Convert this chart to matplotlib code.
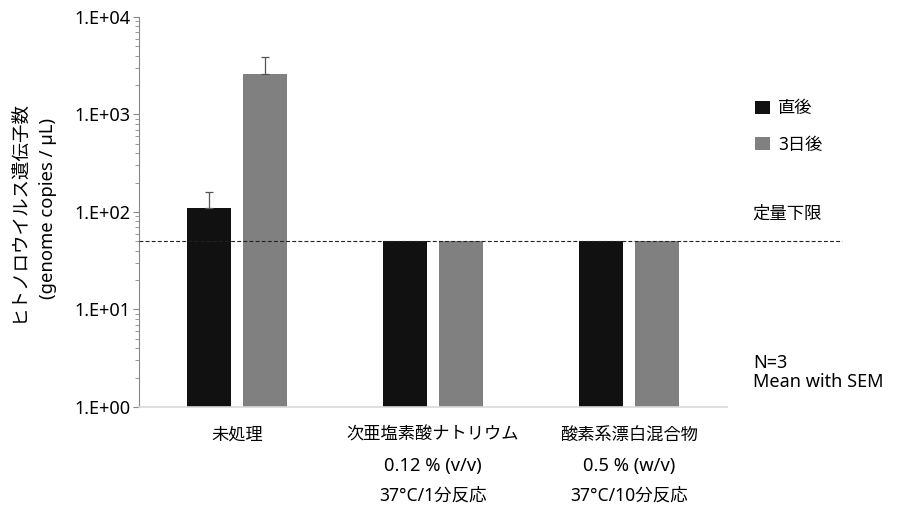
import matplotlib
matplotlib.use("Agg")
import matplotlib.pyplot as plt
from matplotlib.patches import Patch
from matplotlib.ticker import LogLocator, FixedLocator, NullFormatter
import matplotlib.transforms as mtransforms
import numpy as np

plt.rcParams["font.family"] = ["Noto Sans", "Noto Sans CJK JP", "DejaVu Sans"]

cat_names = ["未処理", "次亜塩素酸ナトリウム", "酸素系漂白混合物"]
cat_conc = ["", "0.12 % (v/v)", "0.5 % (w/v)"]
cat_cond = ["", "37°C/1分反応", "37°C/10分反応"]
series_names = ["直後", "3日後"]
right_after = [110, 50, 50]
after_3days = [2600, 50, 50]
sem_right_after = [50, 0, 0]
sem_3days = [1260, 0, 0]
lod = 50
tick_vals = [1, 10, 100, 1000, 10000]
tick_labels = ["1.E+00", "1.E+01", "1.E+02", "1.E+03", "1.E+04"]

BLACK = "#111111"
GRAY = "#808080"

fig = plt.figure(figsize=(9.02, 5.12), dpi=100)
ax = fig.add_axes([0.1541, 0.2051, 0.652, 0.7617])

x = np.arange(len(cat_names))
w = 0.225
off = 0.143

ax.bar(x - off, right_after, w, color=BLACK, zorder=2)
ax.bar(x + off, after_3days, w, color=GRAY, zorder=2)

# upper error bars only, skip groups with no SEM
for xs, vals, sems in [(x - off, right_after, sem_right_after), (x + off, after_3days, sem_3days)]:
    keep = [i for i, s in enumerate(sems) if s > 0]
    ax.errorbar(xs[keep], np.array(vals)[keep],
                yerr=[np.zeros(len(keep)), np.array(sems)[keep]], fmt="none",
                ecolor="#555555", elinewidth=0.9, capsize=2.6, capthick=0.9, zorder=3)

# limit of quantification, extends past the plot area
ax.plot([0, 1.196], [lod, lod], transform=ax.get_yaxis_transform(), color="#222222",
        linestyle=(0, (3.5, 2)), linewidth=0.8, clip_on=False, zorder=4)

ax.set_yscale("log")
ax.set_ylim(1, 10000)
ax.set_xlim(-0.5, 2.5)
ax.yaxis.set_major_locator(FixedLocator(tick_vals))
ax.set_yticklabels(tick_labels, fontsize=13)
ax.yaxis.set_minor_locator(LogLocator(base=10, subs=np.arange(2, 10)))
ax.yaxis.set_minor_formatter(NullFormatter())
ax.tick_params(axis="y", which="major", length=4, color="#888888", pad=2)
ax.tick_params(axis="y", which="minor", length=3, color="#888888")

# category labels, three lines each
ax.set_xticks(x)
ax.set_xticklabels([])
ax.tick_params(axis="x", length=0)
trans = mtransforms.blended_transform_factory(ax.transData, fig.transFigure)
for i in range(len(cat_names)):
    ax.text(x[i], 1 - 435 / 512, cat_names[i], transform=trans, ha="center", va="center", fontsize=12.4)
    ax.text(x[i], 1 - 466 / 512, cat_conc[i], transform=trans, ha="center", va="center", fontsize=13.2)
    ax.text(x[i], 1 - 496 / 512, cat_cond[i], transform=trans, ha="center", va="center", fontsize=12.6)

for s in ["top", "right"]:
    ax.spines[s].set_visible(False)
ax.spines["left"].set_color("#888888")
ax.spines["bottom"].set_color("#d9d9d9")
ax.spines["bottom"].set_linewidth(1.2)

fig.text(0.021, 0.588, "ヒトノロウイルス遺伝子数", rotation=90, ha="center", va="center", fontsize=13.3)
fig.text(0.053, 0.592, "(genome copies / µL)", rotation=90, ha="center", va="center", fontsize=13.3)

handles = [Patch(facecolor=BLACK, label=series_names[0]),
           Patch(facecolor=GRAY, label=series_names[1])]
fig.legend(handles=handles, loc="center left", bbox_to_anchor=(0.82, 0.753), frameon=False,
           fontsize=12.4, handlelength=0.85, handleheight=0.85, handletextpad=0.5, labelspacing=1.05)

fig.text(0.834, 0.582, "定量下限", ha="left", va="center", fontsize=12.5)
fig.text(0.835, 0.273, "N=3\nMean with SEM", ha="left", va="center", fontsize=13, linespacing=1.05)

fig.savefig("out.png", dpi=100)
